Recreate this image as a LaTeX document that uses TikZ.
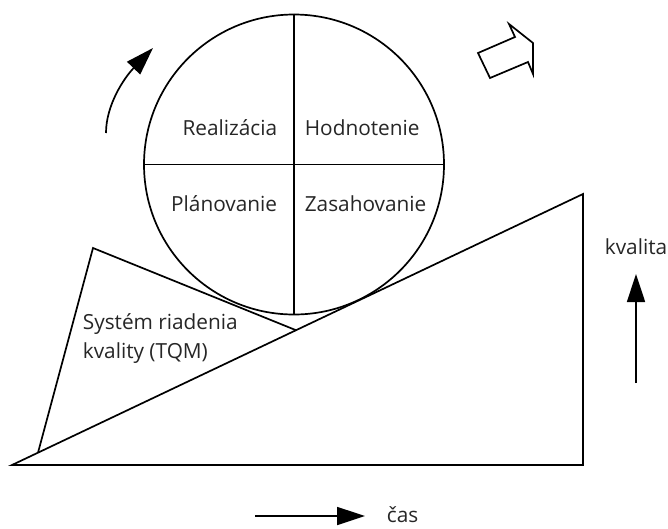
\documentclass[tikz,border=0pt]{standalone}
\usepackage{fontspec}
\setmainfont{Open Sans}
\usetikzlibrary{arrows.meta}
\begin{document}
\begin{tikzpicture}[x=1pt,y=-1pt, line width=1.7pt, line join=miter,
  lbl/.style={font=\fontsize{20.8}{29}\selectfont, inner sep=0pt, text=black!85},
  tip/.style={-{Triangle[length=28pt,width=18pt]}}]
\useasboundingbox (0,0) rectangle (668,528);
% PDCA circle
\node[circle, draw, minimum size=300pt, inner sep=0pt] (c) at (294,164.5) {};
\draw (c.north) -- (c.south);
\draw (c.west) -- (c.east);
\node[lbl, anchor=base east] (real) at (278,135) {Realizácia};
\node[lbl, anchor=base west] (hod) at (304,135) {Hodnotenie};
\node[lbl, anchor=base east] (plan) at (278,211) {Plánovanie};
\node[lbl, anchor=base west] (zas) at (304,211) {Zasahovanie};
% big wedge
\coordinate (A) at (12,465);
\coordinate (B) at (583,465);
\coordinate (C) at (583,194);
\draw (A) -- (B) -- (C) -- cycle;
% small wedge (TQM)
\coordinate (R) at (38,452.7);
\coordinate (P) at (93,248);
\coordinate (Q) at (296,330.2);
\draw (R) -- (P) -- (Q);
\node[lbl, anchor=base west, align=left] (tqm) at (82,358) {Systém riadenia\\kvality (TQM)};
% quality axis
\node[lbl, anchor=base west] (kval) at (604,254) {kvalita};
\coordinate (k1) at (636,383);
\coordinate (k2) at (636,274);
\draw[tip] (k1) -- (k2);
% time axis
\node[lbl, anchor=base west, text depth=0pt] (cas) at (386,522) {čas};
\coordinate (t1) at (255,516);
\coordinate (t2) at (365,516);
\draw[tip] (t1) -- (t2);
% rotation arrow
\coordinate (r1) at (106,133);
\coordinate (r2) at (153,48);
\draw[tip] (r1) .. controls (106,105) and (124,78) .. (r2);
% hollow block arrow
\draw (509,24) -- (533,43) -- (533,74) -- (528,62) -- (490,78) -- (478,53) -- (515,37) -- cycle;
\end{tikzpicture}
\end{document}
